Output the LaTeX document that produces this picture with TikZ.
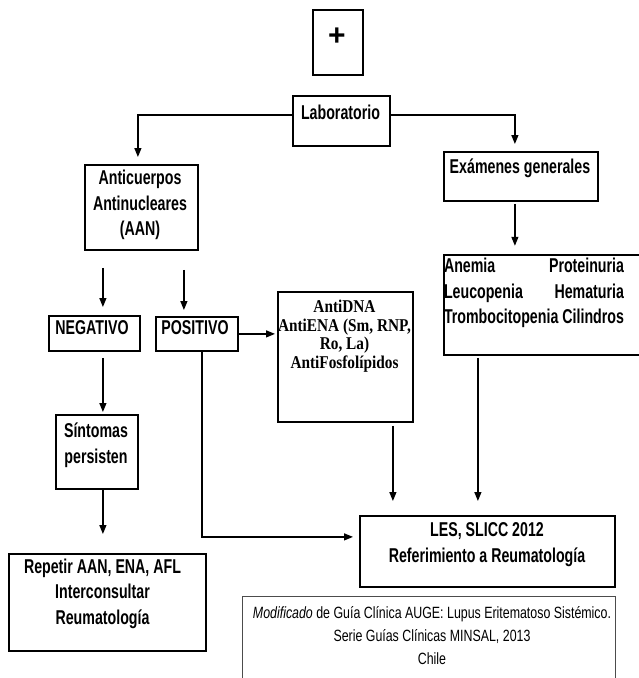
\documentclass[tikz,border=0pt]{standalone}
\usepackage{fontspec}
\setmainfont{Liberation Sans}
\newfontfamily\nar[FakeStretch=0.71]{Liberation Sans}
\newfontfamily\notefont[FakeStretch=0.76]{Liberation Sans}
\newfontfamily\sernar[FakeStretch=0.85]{Liberation Serif}
\usetikzlibrary{arrows.meta,calc}

\begin{document}
\begin{tikzpicture}[x=1pt,y=-1pt,
  frame/.style={draw=black,line width=1.8pt,inner sep=0pt,anchor=north west},
  lbl/.style={inner sep=0pt,align=center,font=\nar\bfseries\fontsize{20}{25.5}\selectfont},
  link/.style={line width=1.2pt,-{Triangle[length=9pt,width=7pt]}}]
\useasboundingbox (0,0) rectangle (638,678);

% frames
\node[frame,minimum width=50pt,minimum height=65pt] (plus) at (312,9) {};
\node[frame,minimum width=97pt,minimum height=50pt] (lab) at (292,95) {};
\node[frame,minimum width=113pt,minimum height=85pt] (aan) at (84,164) {};
\node[frame,minimum width=91pt,minimum height=35pt] (neg) at (48,315) {};
\node[frame,minimum width=82pt,minimum height=34pt] (pos) at (155,316) {};
\node[frame,minimum width=135pt,minimum height=130pt] (anti) at (277,291) {};
\node[frame,minimum width=154pt,minimum height=49pt] (exa) at (443,151) {};
\node[frame,minimum width=210pt,minimum height=100pt] (hall) at (443,254) {};
\node[frame,minimum width=82pt,minimum height=74pt] (sint) at (55,414) {};
\node[frame,minimum width=197pt,minimum height=97pt] (rep) at (8,553) {};
\node[frame,minimum width=255pt,minimum height=71pt] (les) at (359,515) {};
\node[frame,draw=black!70,line width=0.8pt,minimum width=373pt,minimum height=100pt] (note) at (242,596) {};

% texts
\node[inner sep=0pt,font=\bfseries\fontsize{30}{30}\selectfont] (plusT) at (337,37) {+};
\node[lbl] (labT) at (340.5,112) {Laboratorio};
\node[lbl] (aanT) at (140,205) {Anticuerpos\\Antinucleares\\(AAN)};
\node[lbl] (negT) at (92,328) {NEGATIVO};
\node[lbl] (posT) at (195,328) {POSITIVO};
\node[inner sep=0pt,align=center,font=\sernar\bfseries\fontsize{18}{18.5}\selectfont] (antiT) at (344.5,336)
  {AntiDNA\\AntiENA (Sm, RNP,\\Ro, La)\\AntiFosfolípidos};
\node[lbl] (exaT) at (520,168) {Exámenes generales};
\node[lbl,align=left] (hallT) at (534,293)
  {\makebox[180pt]{Anemia\hfill Proteinuria}\\
   \makebox[180pt]{Leucopenia\hfill Hematuria}\\
   \makebox[180pt]{Trombocitopenia\hfill Cilindros}};
\node[lbl] (sintT) at (96,445) {Síntomas\\persisten};
\node[lbl] (repT) at (102.5,593.5) {Repetir AAN, ENA, AFL\\Interconsultar\\Reumatología};
\node[lbl] (lesT) at (487,544.5) {LES, SLICC 2012\\Referimiento a Reumatología};
\node[inner sep=0pt,align=center,font=\notefont\fontsize{16.3}{23}\selectfont] (noteT) at (432,636)
  {\textit{Modificado} de Guía Clínica AUGE: Lupus Eritematoso Sistémico.\\Serie Guías Clínicas MINSAL, 2013\\Chile};

% connectors
\draw[link] ([yshift=-20pt]lab.north west) -| ($(aan.north)+(-3.5,-7)$);
\draw[link] ([yshift=-20pt]lab.north east) -| ($(exa.north)+(-6,-7)$);
\draw[link] ($(aan.south)+(-38.5,17)$) -- ($(neg.north)+(8.5,-8)$);
\draw[link] ($(aan.south)+(42.5,19)$) -- ($(pos.north)+(-13,-6)$);
\draw[link] (pos.east) -- ([xshift=-2pt]anti.west |- pos.east);
\draw[link] ($(pos.south)+(5,0)$) |- ($(les.west)+(-6,-14.5)$);
\draw[link] ($(neg.south)+(8.5,6)$) -- ($(sint.north)+(6,-2)$);
\draw[link] ($(sint.south)+(6,0)$) -- ($(rep.north)+(-4.5,-19)$);
\draw[link] ($(exa.south)+(-6,2)$) -- ($(exa.south)+(-6,44)$);
\draw[link] ($(hall.south)+(-71,2)$) -- ($(les.north)+(-9.5,-14)$);
\draw[link] ($(anti.south)+(47.5,3)$) -- ($(les.north)+(-94.5,-14)$);
\end{tikzpicture}
\end{document}
